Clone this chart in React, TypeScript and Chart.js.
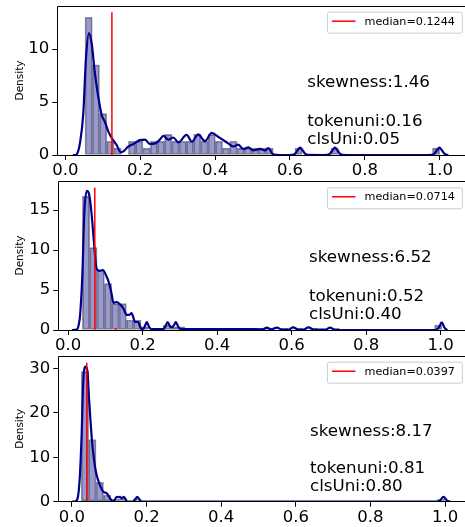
import React, { useEffect, useRef } from "react";
import { Chart, registerables } from "chart.js";

Chart.register(...registerables);

const FONT = "'DejaVu Sans', 'Noto Sans', sans-serif";

// ---------- Panel 1 data ----------
const binStart1 = 0.0526;
const binWidth1 = 0.01933;
const hist1 = [
  13.0, 8.5, 3.9, 1.3, 0.65, 0, 1.3, 1.3, 0.65, 1.3,
  1.3, 1.95, 1.3, 1.3, 1.3, 1.95, 1.3, 1.95, 1.3, 0.65,
  1.3, 0.65, 0.65, 0.65, 0.65, 0.65, 0, 0, 0, 0.65,
  0, 0, 0, 0, 0.65, 0, 0, 0, 0, 0,
  0, 0, 0, 0, 0, 0, 0, 0, 0.65,
];
const kde1: [number, number][] = [
  [0.020, 0], [0.026, 0], [0.032, 0.15], [0.039, 1.1], [0.048, 3.9], [0.055, 9.0],
  [0.063, 11.5], [0.0705, 10.5], [0.079, 7.7], [0.088, 5.5], [0.097, 3.8], [0.106, 3.1],
  [0.115, 2.2], [0.124, 1.6], [0.137, 0.94], [0.148, 0.25], [0.157, 0.4], [0.168, 0.8],
  [0.182, 1.04], [0.199, 1.4], [0.213, 1.45], [0.226, 1.04], [0.240, 1.1], [0.251, 1.4],
  [0.262, 1.8], [0.275, 1.45], [0.288, 1.65], [0.302, 1.2], [0.324, 1.9], [0.338, 1.25],
  [0.355, 1.95], [0.373, 1.3], [0.391, 2.1], [0.409, 1.7], [0.422, 1.4], [0.435, 1.1],
  [0.449, 0.8], [0.462, 0.97], [0.475, 0.57], [0.489, 0.72], [0.502, 0.44], [0.520, 0.57],
  [0.533, 0.44], [0.542, 0.66], [0.555, 0.06], [0.573, 0], [0.600, 0], [0.606, 0.01],
  [0.613, 0.1], [0.620, 0.42], [0.627, 0.7], [0.634, 0.42], [0.641, 0.1], [0.648, 0.01],
  [0.690, 0], [0.699, 0.01], [0.706, 0.1], [0.713, 0.42], [0.720, 0.7], [0.727, 0.42],
  [0.734, 0.1], [0.741, 0.01], [0.750, 0], [0.970, 0], [0.978, 0.01], [0.985, 0.1],
  [0.992, 0.42], [0.999, 0.7], [1.006, 0.42], [1.013, 0.1], [1.020, 0.01], [1.023, 0],
];
const median1 = 0.1244;
const medianTop1 = 13.46;
const texts1 = ["skewness:1.46", "tokenuni:0.16", "clsUni:0.05"];

// ---------- Panel 2 data ----------
const binStart2 = 0.038;
const binWidth2 = 0.0197;
const hist2 = [
  16.7, 10.3, 7.5, 5.8, 3.3, 3.3, 1.25, 1.25, 0.4, 0,
  0.2, 0.6, 0.4, 0.4, 0.2, 0.2, 0.2, 0.2, 0.2, 0.2,
  0.2, 0.2, 0.2, 0.2, 0.2, 0.2, 0, 0.2, 0, 0.2,
  0, 0.2, 0, 0, 0.2, 0, 0, 0, 0, 0,
  0, 0, 0, 0, 0, 0, 0, 0, 0.6,
];
const kde2: [number, number][] = [
  [0.010, 0], [0.023, 0.05], [0.028, 0.6], [0.032, 1.9], [0.038, 6.9], [0.043, 14.4],
  [0.050, 17.4], [0.056, 17.0], [0.063, 14.4], [0.069, 11.0], [0.076, 7.7], [0.084, 7.4],
  [0.093, 7.5], [0.101, 6.9], [0.110, 5.8], [0.117, 4.4], [0.121, 3.4], [0.130, 3.5],
  [0.139, 3.2], [0.148, 2.7], [0.157, 1.9], [0.164, 1.9], [0.170, 2.1], [0.176, 1.4],
  [0.179, 1.0], [0.188, 1.0], [0.193, 0.4], [0.198, 0.1], [0.205, 0.4], [0.211, 1.0],
  [0.217, 0.4], [0.224, 0.1], [0.255, 0.1], [0.261, 0.45], [0.267, 1.0], [0.273, 0.5],
  [0.278, 0.35], [0.284, 0.6], [0.289, 1.0], [0.295, 0.45], [0.302, 0.12], [0.350, 0.12],
  [0.400, 0.1], [0.450, 0.12], [0.500, 0.1], [0.522, 0.08], [0.533, 0.3], [0.545, 0.08],
  [0.560, 0.3], [0.575, 0.05], [0.592, 0.05], [0.604, 0.33], [0.618, 0.05], [0.632, 0.05],
  [0.645, 0.33], [0.660, 0.05], [0.690, 0.05], [0.703, 0.3], [0.716, 0.03], [0.750, 0],
  [0.985, 0], [0.995, 0.3], [1.003, 0.96], [1.010, 0.3], [1.018, 0],
];
const median2 = 0.0714;
const medianTop2 = 17.8;
const meanMark2 = 0.1275;
const texts2 = ["skewness:6.52", "tokenuni:0.52", "clsUni:0.40"];

// ---------- Panel 3 data ----------
const binStart3 = 0.0247;
const binWidth3 = 0.0199;
const hist3 = [
  29.3, 14.0, 4.35, 1.5, 0.55, 0.55, 0, 0.55, 0, 0,
  0, 0, 0, 0, 0, 0, 0, 0, 0, 0,
  0, 0, 0, 0, 0, 0, 0, 0, 0, 0,
  0, 0, 0, 0, 0, 0, 0, 0, 0, 0,
  0, 0, 0, 0, 0, 0, 0, 0, 0.55,
];
const kde3: [number, number][] = [
  [0.000, 0], [0.008, 0.05], [0.015, 0.75], [0.021, 5.6], [0.026, 15.4], [0.030, 26.6],
  [0.036, 30.4], [0.041, 29.6], [0.046, 22.9], [0.053, 14.3], [0.059, 9.4], [0.066, 6.0],
  [0.075, 3.75], [0.084, 2.25], [0.093, 1.9], [0.102, 0.75], [0.111, 0.05], [0.116, 0.6],
  [0.120, 1.1], [0.125, 1.0], [0.129, 1.1], [0.133, 0.7], [0.139, 1.1], [0.144, 0.5],
  [0.148, 0.05], [0.164, 0.05], [0.170, 0.6], [0.175, 1.1], [0.181, 0.5], [0.187, 0.02],
  [0.210, 0], [0.978, 0], [0.987, 0.3], [0.996, 1.1], [1.005, 0.3], [1.014, 0],
];
const median3 = 0.0397;
const medianTop3 = 31.3;
const texts3 = ["skewness:8.17", "tokenuni:0.81", "clsUni:0.80"];

const yTicks1 = [0, 5, 10];
const yTicks2 = [0, 5, 10, 15];
const yTicks3 = [0, 10, 20, 30];

type Panel = {
  top: number;
  height: number;
  yAxisWidth: number;
  xAxisHeight: number;
  xMin: number;
  xMax: number;
  yMax: number;
  yTicks: number[];
  binStart: number;
  binWidth: number;
  hist: number[];
  kde: [number, number][];
  median: number;
  medianTop: number;
  mark?: number;
  texts: string[];
  textDX: number;
  textDY: number[];
  legendTop: number;
};

const PANELS: Panel[] = [
  {
    top: 0, height: 180, yAxisWidth: 57.3, xAxisHeight: 25,
    xMin: -0.0214, xMax: 1.074, yMax: 14.06, yTicks: yTicks1,
    binStart: binStart1, binWidth: binWidth1, hist: hist1, kde: kde1,
    median: median1, medianTop: medianTop1, texts: texts1,
    textDX: 250, textDY: [81, 120, 138.3], legendTop: 5.7,
  },
  {
    top: 175, height: 180, yAxisWidth: 58.3, xAxisHeight: 25,
    xMin: -0.0266, xMax: 1.072, yMax: 18.63, yTicks: yTicks2,
    binStart: binStart2, binWidth: binWidth2, hist: hist2, kde: kde2,
    median: median2, medianTop: medianTop2, mark: meanMark2, texts: texts2,
    textDX: 250.7, textDY: [81.3, 120, 138], legendTop: 6.3,
  },
  {
    top: 350, height: 177, yAxisWidth: 58.3, xAxisHeight: 25.3,
    xMin: -0.0367, xMax: 1.0603, yMax: 32.8, yTicks: yTicks3,
    binStart: binStart3, binWidth: binWidth3, hist: hist3, kde: kde3,
    median: median3, medianTop: medianTop3, texts: texts3,
    textDX: 251.7, textDY: [79.7, 116.7, 135], legendTop: 5.7,
  },
];

const CANVAS_W = 470;

function makeChart(canvas: HTMLCanvasElement, p: Panel) {
  const bars = p.hist.map((h, i) => ({ x: p.binStart + (i + 0.5) * p.binWidth, y: h }));
  const kde = p.kde.map(([x, y]) => ({ x, y }));
  const step = p.yTicks[1] - p.yTicks[0];

  const datasets: any[] = [
    {
      type: "line",
      data: [{ x: p.median, y: 0 }, { x: p.median, y: p.medianTop }],
      borderColor: "#ff0000",
      borderWidth: 1.5,
      pointRadius: 0,
      order: 0,
    },
    {
      type: "line",
      data: kde,
      borderColor: "#00008b",
      borderWidth: 2.2,
      pointRadius: 0,
      cubicInterpolationMode: "monotone",
      order: 1,
    },
    {
      type: "bar",
      data: bars,
      backgroundColor: "rgba(0,0,128,0.4)",
      borderColor: "rgba(40,40,60,0.5)",
      borderWidth: 1,
      borderSkipped: false,
      barPercentage: 1,
      categoryPercentage: 1,
      order: 2,
    },
  ];
  if (p.mark !== undefined) {
    datasets.unshift({
      type: "line",
      data: [{ x: p.mark, y: 0 }, { x: p.mark, y: 0.25 }],
      borderColor: "#ff0000",
      borderWidth: 1.6,
      pointRadius: 0,
      order: 0,
    });
  }

  const overlay = {
    id: "overlay",
    afterDatasetsDraw(chart: any) {
      const { ctx, chartArea: a } = chart;
      ctx.save();
      // frame
      ctx.strokeStyle = "#000";
      ctx.lineWidth = 1;
      const L = Math.floor(a.left) + 0.5;
      const T = Math.floor(a.top) + 0.5;
      const B = Math.floor(a.bottom) + 0.5;
      const R = a.right;
      ctx.beginPath();
      ctx.moveTo(R, T);
      ctx.lineTo(L, T);
      ctx.lineTo(L, B);
      ctx.lineTo(R, B);
      ctx.stroke();

      // legend
      const bw = 135;
      const bh = 21;
      const bx = a.right - 5.6 - bw;
      const by = a.top + p.legendTop;
      ctx.beginPath();
      if ((ctx as any).roundRect) (ctx as any).roundRect(bx + 0.5, by + 0.5, bw, bh, 2);
      else ctx.rect(bx + 0.5, by + 0.5, bw, bh);
      ctx.fillStyle = "rgba(255,255,255,0.8)";
      ctx.fill();
      ctx.strokeStyle = "#cccccc";
      ctx.lineWidth = 1;
      ctx.stroke();
      ctx.beginPath();
      ctx.strokeStyle = "#ff0000";
      ctx.lineWidth = 1.5;
      ctx.moveTo(bx + 5, by + 9.5);
      ctx.lineTo(bx + 28.5, by + 9.5);
      ctx.stroke();
      ctx.fillStyle = "#000";
      ctx.font = `11.2px ${FONT}`;
      ctx.textBaseline = "middle";
      ctx.textAlign = "left";
      ctx.fillText(`median=${p.median.toFixed(4)}`, bx + 37.6, by + 10);

      // annotations
      ctx.font = `16.7px ${FONT}`;
      ctx.textBaseline = "alphabetic";
      p.texts.forEach((t, i) => {
        ctx.fillText(t, a.left + p.textDX, a.top + p.textDY[i]);
      });
      ctx.restore();
    },
  };

  return new Chart(canvas, {
    type: "bar",
    data: { datasets },
    plugins: [overlay],
    options: {
      animation: false,
      responsive: false,
      devicePixelRatio: 1,
      layout: { padding: { top: 6, left: 0, right: CANVAS_W - 467.5, bottom: 0 } },
      plugins: {
        legend: { display: false },
        tooltip: { enabled: false },
      },
      scales: {
        x: {
          type: "linear",
          min: p.xMin,
          max: p.xMax,
          offset: false,
          border: { display: false },
          grid: {
            offset: false,
            drawOnChartArea: false,
            drawTicks: true,
            tickLength: 5,
            color: "#000",
            tickColor: "#000",
            tickWidth: 1,
          },
          ticks: {
            stepSize: 0.2,
            includeBounds: false,
            autoSkip: false,
            maxRotation: 0,
            minRotation: 0,
            padding: 1,
            color: "#000",
            font: { family: FONT, size: 16.5 },
            callback: (v: any) => Number(v).toFixed(1),
          },
          afterFit: (s: any) => {
            s.height = p.xAxisHeight;
            s.paddingLeft = 0;
            s.paddingRight = 0;
            s.paddingTop = 0;
            s.paddingBottom = 0;
          },
        },
        y: {
          type: "linear",
          min: 0,
          max: p.yMax,
          border: { display: false },
          grid: {
            drawOnChartArea: false,
            drawTicks: true,
            tickLength: 5,
            color: "#000",
            tickColor: "#000",
            tickWidth: 1,
          },
          ticks: {
            stepSize: step,
            includeBounds: false,
            padding: 3,
            color: "#000",
            font: { family: FONT, size: 16.5 },
            callback: (v: any) => String(v),
          },
          title: {
            display: true,
            text: "Density",
            color: "#000",
            font: { family: FONT, size: 10.5 },
            padding: { top: 13.7, bottom: 0 },
          },
          afterFit: (s: any) => {
            s.width = p.yAxisWidth;
            s.paddingLeft = 0;
            s.paddingRight = 0;
            s.paddingTop = 0;
            s.paddingBottom = 0;
          },
        },
      },
    } as any,
  });
}

export default function App() {
  const refs = useRef<(HTMLCanvasElement | null)[]>([]);

  useEffect(() => {
    const charts = PANELS.map((p, i) => makeChart(refs.current[i] as HTMLCanvasElement, p));
    return () => {
      charts.forEach((c) => c.destroy());
    };
  }, []);

  return (
    <div
      style={{
        position: "fixed",
        left: 0,
        top: 0,
        width: 465,
        height: 527,
        overflow: "hidden",
        background: "#ffffff",
      }}
    >
      {PANELS.map((p, i) => (
        <canvas
          key={i}
          ref={(el) => {
            refs.current[i] = el;
          }}
          width={CANVAS_W}
          height={p.height}
          style={{
            position: "absolute",
            left: 0,
            top: p.top,
            width: CANVAS_W,
            height: p.height,
            display: "block",
          }}
        />
      ))}
    </div>
  );
}
